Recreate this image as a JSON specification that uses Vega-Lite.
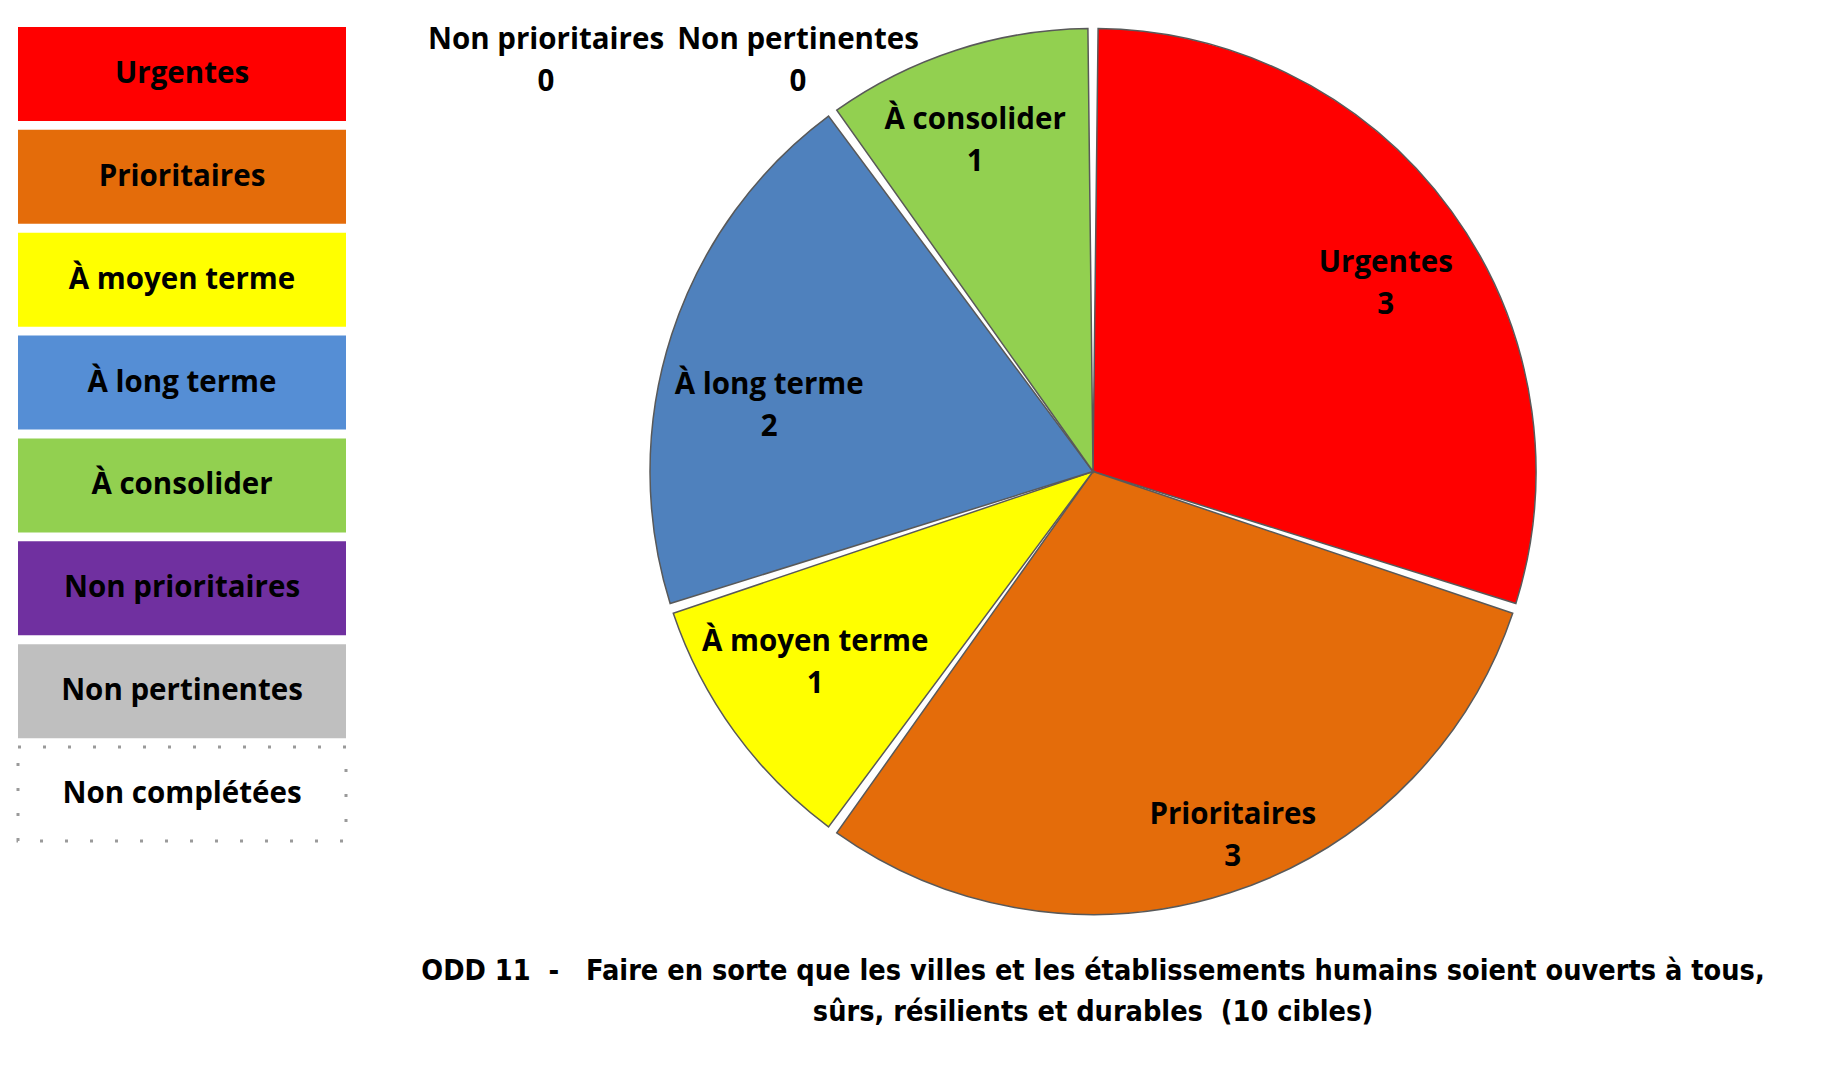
{
  "$schema": "https://vega.github.io/schema/vega-lite/v6.json",
  "padding": {"left": 16, "top": 24, "right": 5, "bottom": 5},
  "background": "white",
  "config": {"view": {"stroke": null}, "font": "Open Sans", "text": {"fontSize": 29.5, "fontWeight": "bold", "color": "black"}},
  "datasets": {
    "legend": [
      {"cat": "Urgentes", "ord": 1},
      {"cat": "Prioritaires", "ord": 2},
      {"cat": "À moyen terme", "ord": 3},
      {"cat": "À long terme", "ord": 4},
      {"cat": "À consolider", "ord": 5},
      {"cat": "Non prioritaires", "ord": 6},
      {"cat": "Non pertinentes", "ord": 7},
      {"cat": "Non complétées", "ord": 8}
    ],
    "pie": [
      {"cat": "Urgentes", "n": 3, "ord": 1},
      {"cat": "Prioritaires", "n": 3, "ord": 2},
      {"cat": "À moyen terme", "n": 1, "ord": 3},
      {"cat": "À long terme", "n": 2, "ord": 4},
      {"cat": "À consolider", "n": 1, "ord": 5},
      {"cat": "Non prioritaires", "n": 0, "ord": 6},
      {"cat": "Non pertinentes", "n": 0, "ord": 7}
    ]
  },
  "hconcat": [
    {
      "width": 328,
      "height": 814,
      "data": {"name": "legend"},
      "encoding": {
        "y": {"field": "cat", "type": "nominal", "sort": {"field": "ord"}, "axis": null,
              "scale": {"paddingInner": 0.086, "paddingOuter": 0}}
      },
      "layer": [
        {
          "mark": {"type": "rect"},
          "encoding": {
            "color": {"field": "cat", "type": "nominal", "legend": null,
              "scale": {
                "domain": ["Urgentes", "Prioritaires", "À moyen terme", "À long terme", "À consolider", "Non prioritaires", "Non pertinentes", "Non complétées"],
                "range": ["#FF0000", "#E46C0A", "#FFFF00", "#558ED5", "#92D050", "#7030A0", "#BFBFBF", "#FFFFFF"]
              }
            }
          }
        },
        {
          "transform": [{"filter": "datum.cat === 'Non complétées'"}],
          "mark": {"type": "rect", "fill": null, "stroke": "#9A9A9A", "strokeWidth": 3, "strokeDash": [3, 22]}
        },
        {
          "mark": {"type": "text", "align": "center", "baseline": "middle"},
          "encoding": {"text": {"field": "cat", "type": "nominal"}}
        }
      ]
    },
    {
      "width": 1370,
      "height": 889,
      "data": {"name": "pie"},
      "title": {
        "text": ["ODD 11\u00a0\u00a0-\u00a0\u00a0\u00a0Faire en sorte que les villes et les établissements humains soient ouverts à tous,", "sûrs, résilients et durables\u00a0\u00a0(10 cibles)"],
        "orient": "bottom",
        "anchor": "middle",
        "offset": 39,
        "font": "DejaVu Sans Condensed",
        "fontSize": 28.6,
        "fontWeight": "bold",
        "color": "black",
        "lineHeight": 41
      },
      "encoding": {
        "theta": {"field": "n", "type": "quantitative", "stack": true},
        "order": {"field": "ord", "type": "quantitative"}
      },
      "layer": [
        {
          "transform": [{"filter": "datum.n > 0"}],
          "mark": {"type": "arc", "outerRadius": 443, "padAngle": 0.023, "stroke": "#595959", "strokeWidth": 1.5},
          "encoding": {
            "color": {"field": "cat", "type": "nominal", "legend": null,
              "scale": {
                "domain": ["Urgentes", "Prioritaires", "À moyen terme", "À long terme", "À consolider", "Non prioritaires", "Non pertinentes"],
                "range": ["#FF0000", "#E46C0A", "#FFFF00", "#4F81BD", "#92D050", "#7030A0", "#BFBFBF"]
              }
            }
          }
        },
        {"mark": {"type": "text", "radius": 352, "dx": 8, "dy": -2},
         "encoding": {"text": {"condition": {"test": "datum.cat === 'Urgentes'", "field": "cat", "type": "nominal"}, "value": ""}}},
        {"mark": {"type": "text", "radius": 352, "dx": 8, "dy": 40},
         "encoding": {"text": {"condition": {"test": "datum.cat === 'Urgentes'", "field": "n", "type": "quantitative"}, "value": ""}}},
        {"mark": {"type": "text", "radius": 352, "dx": 31, "dy": 9},
         "encoding": {"text": {"condition": {"test": "datum.cat === 'Prioritaires'", "field": "cat", "type": "nominal"}, "value": ""}}},
        {"mark": {"type": "text", "radius": 352, "dx": 31, "dy": 51},
         "encoding": {"text": {"condition": {"test": "datum.cat === 'Prioritaires'", "field": "n", "type": "quantitative"}, "value": ""}}},
        {"mark": {"type": "text", "radius": 352, "dx": 7, "dy": -36},
         "encoding": {"text": {"condition": {"test": "datum.cat === 'À moyen terme'", "field": "cat", "type": "nominal"}, "value": ""}}},
        {"mark": {"type": "text", "radius": 352, "dx": 7, "dy": 6},
         "encoding": {"text": {"condition": {"test": "datum.cat === 'À moyen terme'", "field": "n", "type": "quantitative"}, "value": ""}}},
        {"mark": {"type": "text", "radius": 352, "dx": 11, "dy": 22},
         "encoding": {"text": {"condition": {"test": "datum.cat === 'À long terme'", "field": "cat", "type": "nominal"}, "value": ""}}},
        {"mark": {"type": "text", "radius": 352, "dx": 11, "dy": 64},
         "encoding": {"text": {"condition": {"test": "datum.cat === 'À long terme'", "field": "n", "type": "quantitative"}, "value": ""}}},
        {"mark": {"type": "text", "radius": 352, "dx": -9, "dy": -17},
         "encoding": {"text": {"condition": {"test": "datum.cat === 'À consolider'", "field": "cat", "type": "nominal"}, "value": ""}}},
        {"mark": {"type": "text", "radius": 352, "dx": -9, "dy": 25},
         "encoding": {"text": {"condition": {"test": "datum.cat === 'À consolider'", "field": "n", "type": "quantitative"}, "value": ""}}},
        {
          "transform": [{"filter": "datum.cat === 'Non pertinentes'"}],
          "mark": {"type": "text", "radius": 411, "dx": -295, "dy": -21},
          "encoding": {"text": {"field": "cat", "type": "nominal"}}
        },
        {
          "transform": [{"filter": "datum.cat === 'Non pertinentes'"}],
          "mark": {"type": "text", "radius": 411, "dx": -295, "dy": 21},
          "encoding": {"text": {"field": "n", "type": "quantitative"}}
        },
        {
          "transform": [{"filter": "datum.cat === 'Non prioritaires'"}],
          "mark": {"type": "text", "radius": 411, "dx": -547, "dy": -21},
          "encoding": {"text": {"field": "cat", "type": "nominal"}}
        },
        {
          "transform": [{"filter": "datum.cat === 'Non prioritaires'"}],
          "mark": {"type": "text", "radius": 411, "dx": -547, "dy": 21},
          "encoding": {"text": {"field": "n", "type": "quantitative"}}
        }
      ]
    }
  ],
  "spacing": 60,
  "resolve": {"scale": {"color": "independent"}}
}
